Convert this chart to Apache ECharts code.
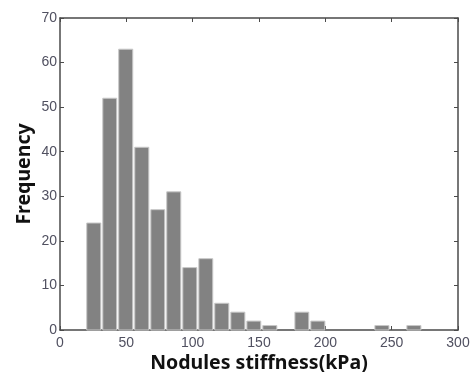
<!DOCTYPE html>
<html>
<head>
<meta charset="utf-8">
<script src="https://cdn.jsdelivr.net/npm/echarts@6/dist/echarts.min.js"></script>
<style>html,body{margin:0;padding:0;background:#fff}#c{width:474px;height:372px}</style>
</head>
<body>
<div id="c"></div>
<script>
// Histogram bin edges (kPa) and counts
const binStart = [19.4, 31.5, 43.5, 55.6, 67.7, 79.7, 91.8, 103.9, 115.9, 128.0, 140.1, 152.1, 164.2, 176.3, 188.3, 200.4, 212.5, 224.5, 236.6, 248.7, 260.7];
const binEnd   = [31.5, 43.5, 55.6, 67.7, 79.7, 91.8, 103.9, 115.9, 128.0, 140.1, 152.1, 164.2, 176.3, 188.3, 200.4, 212.5, 224.5, 236.6, 248.7, 260.7, 272.8];
const counts   = [24, 52, 63, 41, 27, 31, 14, 16, 6, 4, 2, 1, 0, 4, 2, 0, 0, 0, 1, 0, 1];
const xTicks = [0, 50, 100, 150, 200, 250, 300];
const yTicks = [0, 10, 20, 30, 40, 50, 60, 70];

const data = counts.map((c, i) => [binStart[i], binEnd[i], c]);
const axisCol = '#4a4a4a';
const labelStyle = { color: '#505060', fontSize: 14, fontFamily: 'Liberation Sans' };
const titleStyle = { fontSize: 19.5, fontWeight: 'bold', color: '#111', fontFamily: 'Noto Sans' };

function frameAxis(pos, isX) {
  const ticks = isX ? xTicks : yTicks;
  return {
    type: 'value', min: ticks[0], max: ticks[ticks.length - 1], interval: isX ? 50 : 10,
    position: pos,
    axisLine: { show: true, onZero: false, lineStyle: { color: axisCol, width: 1.5 } },
    axisTick: { show: true, inside: true, length: 4, lineStyle: { color: axisCol } },
    axisLabel: { show: false }, splitLine: { show: false }
  };
}

const chart = echarts.init(document.getElementById('c'), null, { renderer: 'canvas' });
chart.setOption({
  animation: false,
  grid: { left: 60, right: 16, top: 18, bottom: 42, containLabel: false, outerBoundsMode: 'none' },
  xAxis: [
    Object.assign(frameAxis('bottom', true), {
      axisLabel: Object.assign({ show: true, margin: 6 }, labelStyle),
      name: 'Nodules stiffness(kPa)', nameLocation: 'middle', nameGap: 23, nameMoveOverlap: false,
      nameTextStyle: titleStyle }),
    frameAxis('top', true)
  ],
  yAxis: [
    Object.assign(frameAxis('left', false), {
      axisLabel: Object.assign({ show: true, margin: 3 }, labelStyle),
      name: 'Frequency', nameLocation: 'middle', nameGap: 26, nameRotate: 90, nameMoveOverlap: false,
      nameTextStyle: titleStyle }),
    frameAxis('right', false)
  ],
  series: [{
    type: 'custom',
    xAxisIndex: 0, yAxisIndex: 0,
    data: data,
    encode: { x: [0, 1], y: 2 },
    renderItem: function (params, api) {
      const y = api.value(2);
      if (!y) return null;
      const p0 = api.coord([api.value(0), 0]);
      const p1 = api.coord([api.value(1), y]);
      return {
        type: 'rect',
        shape: { x: p0[0] + 1, y: p1[1], width: p1[0] - p0[0] - 2, height: p0[1] - p1[1] },
        style: { fill: '#828282', stroke: '#c8c8c8', lineWidth: 1 }
      };
    }
  }]
});
</script>
</body>
</html>
